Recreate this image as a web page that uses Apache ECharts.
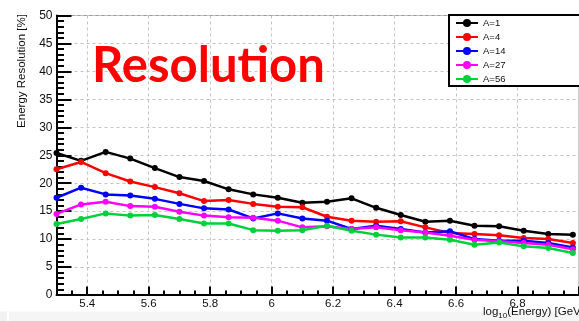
<!DOCTYPE html>
<html>
<head>
<meta charset="utf-8">
<script src="https://cdn.jsdelivr.net/npm/echarts@6/dist/echarts.min.js"></script>
<style>
	html, body { margin: 0; padding: 0; background: #fff; }
	#main { width: 579px; height: 321px; }
</style>
</head>
<body>
<div id="main"></div>
<script>
// log10(E/GeV) bin positions
var energy = [5.30, 5.38, 5.46, 5.54, 5.62, 5.70, 5.78, 5.86, 5.94, 6.02, 6.10,
	6.18, 6.26, 6.34, 6.42, 6.50, 6.58, 6.66, 6.74, 6.82, 6.90, 6.98];

// resolution [%] per mass number
var resA1 = [25.4, 24.0, 25.6, 24.4, 22.7, 21.1, 20.4, 18.9, 18.0, 17.4, 16.5,
	16.7, 17.3, 15.6, 14.3, 13.1, 13.3, 12.4, 12.3, 11.5, 10.9, 10.8];
var resA4 = [22.5, 23.8, 21.8, 20.3, 19.3, 18.2, 16.8, 17.0, 16.3, 15.8, 15.7,
	14.0, 13.3, 13.1, 13.2, 12.1, 11.1, 10.9, 10.7, 10.2, 10.0, 9.3];
var resA14 = [17.4, 19.2, 18.0, 17.8, 17.2, 16.3, 15.5, 15.3, 13.7, 14.6, 13.7,
	13.3, 11.8, 12.4, 11.8, 11.2, 11.4, 10.0, 9.7, 9.7, 9.3, 8.5];
var resA27 = [14.5, 16.2, 16.7, 15.9, 15.8, 14.9, 14.2, 13.9, 13.8, 13.3, 12.1,
	12.3, 11.8, 12.1, 11.6, 11.2, 10.6, 9.9, 9.6, 9.3, 9.0, 8.2];
var resA56 = [12.7, 13.6, 14.6, 14.2, 14.3, 13.6, 12.8, 12.8, 11.6, 11.5, 11.6,
	12.4, 11.5, 10.8, 10.3, 10.3, 9.9, 9.0, 9.4, 8.7, 8.4, 7.5];

var seriesNames = ['A=1', 'A=4', 'A=14', 'A=27', 'A=56'];
var seriesData = [resA1, resA4, resA14, resA27, resA56];
var seriesColors = ['#000000', '#ff0000', '#0000ff', '#ff00ff', '#00d03c'];

var xMin = 5.3, xMax = 7.0;
var yMin = 0, yMax = 50, yStep = 5;

var myChart = echarts.init(document.getElementById('main'), null, { renderer: 'canvas' });

function pairs(ys) {
	var out = [];
	for (var i = 0; i < energy.length; i++) {
		out.push([energy[i], ys[i]]);
	}
	return out;
}

var series = [];
for (var i = 0; i < seriesNames.length; i++) {
	series.push({
		name: seriesNames[i],
		type: 'line',
		data: pairs(seriesData[i]),
		symbol: 'circle',
		symbolSize: 6,
		color: seriesColors[i],
		lineStyle: { width: 2.5, color: seriesColors[i] },
		itemStyle: { color: seriesColors[i] },
		animation: false
	});
}

var option = {
	animation: false,
	textStyle: { fontFamily: 'Liberation Sans, Arial, sans-serif' },
	grid: {
		left: 56.5,
		top: 15.5,
		width: 526,
		height: 279.5,
		show: true,
		borderColor: '#9a9a9a',
		borderWidth: 1
	},
	xAxis: {
		type: 'value',
		min: xMin,
		max: xMax,
		splitNumber: 8,
		axisLine: { lineStyle: { color: '#000', width: 2 } },
		axisTick: { inside: true, length: 8.5, lineStyle: { color: '#000', width: 2 } },
		minorTick: { show: true, splitNumber: 4, length: 4.5, lineStyle: { color: '#000', width: 2 } },
		axisLabel: {
			showMinLabel: false,
			showMaxLabel: false,
			margin: 3,
			fontSize: 11.5,
			color: '#111'
		},
		splitLine: { show: true, lineStyle: { color: '#c4c4c4', type: [3, 3], width: 1 } }
	},
	yAxis: {
		type: 'value',
		min: yMin,
		max: yMax,
		interval: yStep,
		axisLine: { show: true, lineStyle: { color: '#000', width: 2 } },
		axisTick: { show: true, inside: true, length: 15, lineStyle: { color: '#000', width: 2 } },
		minorTick: { show: true, splitNumber: 5, length: 7.5, lineStyle: { color: '#000', width: 2 } },
		axisLabel: { margin: 4, fontSize: 12, color: '#111' },
		splitLine: { show: true, lineStyle: { color: '#c4c4c4', type: [3, 3], width: 1 } }
	},
	legend: {
		orient: 'vertical',
		left: 455,
		top: 18,
		padding: 0,
		itemWidth: 22,
		itemHeight: 10,
		itemGap: 4,
		z: 6,
		textStyle: { fontSize: 9.5, color: '#111', fontFamily: 'Liberation Sans, Arial, sans-serif' },
		data: seriesNames
	},
	graphic: [
		// legend frame (runs off the right edge like the source)
		{
			type: 'rect', z: 5,
			shape: { x: 449, y: 15, width: 140, height: 71 },
			style: { fill: '#fff', stroke: '#000', lineWidth: 2 }
		},
		// grey strip at the bottom of the crop
		{
			type: 'rect', z: 0,
			shape: { x: 0, y: 311.5, width: 7, height: 10 },
			style: { fill: '#f2f2f2' }
		},
		{
			type: 'rect', z: 0,
			shape: { x: 9, y: 311.5, width: 570, height: 10 },
			style: { fill: '#f5f5f5' }
		},
		{
			type: 'text', z: 10,
			x: 92, y: 66,
			style: {
				text: 'Resolution',
				fill: '#ff0000',
				font: 'bold 49px Lato, "Liberation Sans", sans-serif',
				textVerticalAlign: 'middle'
			}
		},
		{
			type: 'text', z: 10,
			x: 22, y: 71,
			rotation: Math.PI / 2,
			style: {
				text: 'Energy Resolution [%]',
				fill: '#111',
				font: '11.5px "Liberation Sans", Arial, sans-serif',
				textAlign: 'center',
				textVerticalAlign: 'middle'
			}
		},
		{
			type: 'text', z: 10,
			x: 483, y: 312,
			style: {
				text: '{a|log}{s|10}{a|(Energy) [GeV]}',
				fill: '#111',
				textVerticalAlign: 'middle',
				rich: {
					a: { fontSize: 11.5, fontFamily: 'Liberation Sans', fill: '#111' },
					s: { fontSize: 8, fontFamily: 'Liberation Sans', fill: '#111', padding: [8, 0, 0, 0] }
				}
			}
		}
	],
	series: series
};

myChart.setOption(option);
</script>
</body>
</html>
